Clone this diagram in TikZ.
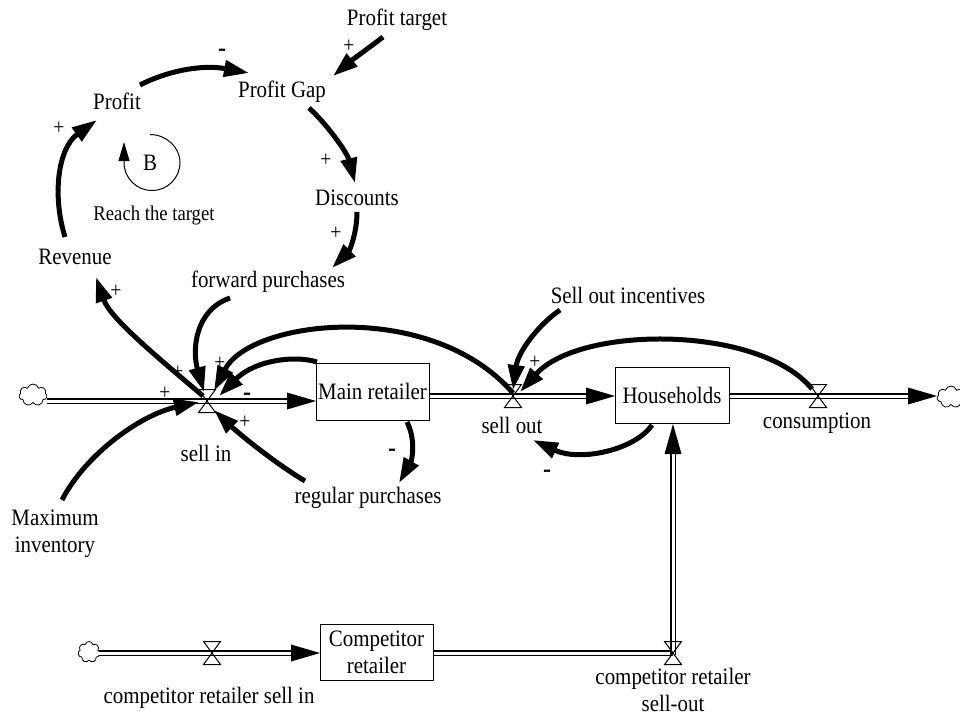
\documentclass[tikz,border=0pt]{standalone}
\usepackage{fontspec}
\setmainfont[FakeStretch=0.89]{Liberation Serif}
\newfontfamily\signfont[FakeBold=3]{Liberation Serif}
\usetikzlibrary{arrows.meta,shapes.symbols}
\begin{document}
\begin{tikzpicture}[x=1pt,y=-1pt,
  every node/.style={font=\fontsize{23.5}{27}\selectfont, inner sep=0pt},
  link/.style={line width=5pt, -{Triangle[length=25pt,width=16pt]}},
  pipe/.style={draw, line width=1.3pt, double=white, double distance=3pt},
  stock/.style={draw, line width=1pt, fill=white, inner sep=2pt, align=center},
  cloudy/.style={cloud, cloud puffs=7, cloud puff arc=150, cloud ignores aspect, draw, line width=0.8pt, inner sep=0pt},
  valve/.pic={\draw[line width=1pt] (-8.5,-11.5) -- (8.5,-11.5) -- (-8.5,11.5) -- (8.5,11.5) -- cycle;},
  headR/.pic={\fill (0,0) -- (-29,-8.5) -- (-29,8.5) -- cycle;},
  headU/.pic={\fill (0,0) -- (-8.5,30) -- (8.5,30) -- cycle;},
  sgn/.style={font=\fontsize{22}{24}\selectfont},
  nsgn/.style={font=\fontsize{22}{24}\signfont}
]
\useasboundingbox (0,0) rectangle (960,715);

% ---------- clouds ----------
\node[cloudy, minimum width=28pt, minimum height=22pt] (cloudL) at (33,395) {};
\node[cloudy, minimum width=28pt, minimum height=22pt] (cloudR) at (951,397) {};
\node[cloudy, minimum width=22pt, minimum height=21pt] (cloudC) at (89,652) {};

% ---------- pipe end points ----------
\coordinate (p1s) at (47,401);  \coordinate (p1e) at (316,401);
\coordinate (p2s) at (429,396); \coordinate (p2e) at (615,396);
\coordinate (p3s) at (729,396); \coordinate (p3e) at (937,396);
\coordinate (p4s) at (99,653);  \coordinate (p4e) at (320,653);
\coordinate (p5s) at (433,653); \coordinate (p5c) at (673,653);
\coordinate (p5v) at (673,655); \coordinate (p5e) at (673,424);

\draw[pipe, shorten >=28pt] (p1s) -- (p1e);
\draw[pipe, shorten >=28pt] (p2s) -- (p2e);
\draw[pipe, shorten >=28pt] (p3s) -- (p3e);
\draw[pipe, shorten >=28pt] (p4s) -- (p4e);
\draw[pipe] (p5s) -- (p5c);
\draw[pipe, shorten >=29pt] (p5v) -- (p5e);
\pic at (p1e) {headR};
\pic at (p2e) {headR};
\pic at (p3e) {headR};
\pic at (p4e) {headR};
\pic at (p5e) {headU};

% ---------- valves ----------
\coordinate (vSellIn) at (207,401);
\coordinate (vSellOut) at (513,396);
\coordinate (vCons) at (818,396);
\coordinate (vCSin) at (212,653);
\coordinate (vCSout) at (673,653);
\pic at (vSellIn) {valve};
\pic at (vSellOut) {valve};
\pic at (vCons) {valve};
\pic at (vCSin) {valve};
\pic at (vCSout) {valve};

% ---------- stocks ----------
\node[stock, minimum width=113pt, minimum height=57pt] (MR) at (372.5,391.5) {Main retailer};
\node[stock, minimum width=114pt, minimum height=56pt] (HH) at (672,395) {Households};
\node[stock, minimum width=113pt, minimum height=56pt] (CR) at (376.5,652) {Competitor\\retailer};

% ---------- link end points ----------
\coordinate (L1s) at (140,85);  \coordinate (L1e) at (249,73);
\coordinate (L2s) at (383,37);  \coordinate (L2e) at (333,76);
\coordinate (L3s) at (309,108); \coordinate (L3e) at (355,183);
\coordinate (L4s) at (357,212); \coordinate (L4e) at (332,268);
\coordinate (L5s) at (65,237);  \coordinate (L5e) at (97,120);
\coordinate (L6s) at (203,396); \coordinate (L6e) at (96,277);
\coordinate (L7s) at (230,298); \coordinate (L7e) at (204,392);
\coordinate (L8s) at (62,500);  \coordinate (L8e) at (199,402);
\coordinate (L9s) at (305,481); \coordinate (L9e) at (214,410);
\coordinate (L10s) at (407,422); \coordinate (L10e) at (399,483);
\coordinate (L11s) at (560,310); \coordinate (L11e) at (513,390);
\coordinate (L12s) at (812,389); \coordinate (L12e) at (520,392);
\coordinate (L13s) at (652,425); \coordinate (L13e) at (533,440);
\coordinate (L14s) at (513,393); \coordinate (L14e) at (214,391);
\coordinate (L15s) at (317,362); \coordinate (L15e) at (219,396);

% ---------- links ----------
\draw[link] (L1s) .. controls (165,72) and (200,64) .. (L1e);
\draw[link] (L2s) .. controls (370,47) and (352,60) .. (L2e);
\draw[link] (L3s) .. controls (325,122) and (347,152) .. (L3e);
\draw[link] (L4s) .. controls (357,232) and (350,250) .. (L4e);
\draw[link] (L5s) .. controls (52,195) and (58,148) .. (L5e);
\draw[link] (L6s) .. controls (155,355) and (110,318) .. (L6e);
\draw[link] (L7s) .. controls (195,310) and (192,350) .. (L7e);
\draw[link] (L8s) .. controls (85,455) and (140,415) .. (L8e);
\draw[link] (L9s) .. controls (270,460) and (235,430) .. (L9e);
\draw[link] (L10s) .. controls (416,440) and (412,460) .. (L10e);
\draw[link] (L11s) .. controls (538,325) and (518,352) .. (L11e);
\draw[link] (L12s) .. controls (760,325) and (580,325) .. (L12e);
\draw[link] (L13s) .. controls (635,450) and (580,462) .. (L13e);
\draw[link] (L14s) .. controls (430,298) and (250,320) .. (L14e);
\draw[link] (L15s) .. controls (295,355) and (255,360) .. (L15e);

% ---------- loop marker ----------
\coordinate (Bt) at (150,134.5);
\coordinate (Br) at (180,162.5);
\coordinate (Bb) at (152,190.5);
\coordinate (Bw) at (124,162.5);
\coordinate (Btip) at (124,142);
\draw[line width=1pt, -{Triangle[length=19pt,width=11pt]}]
  (Bt) .. controls (166,134.5) and (180,147) .. (Br)
       .. controls (180,178) and (167.5,190.5) .. (Bb)
       .. controls (136.5,190.5) and (124,178) .. (Bw) -- (Btip);
\node (Bl) at (150,163) {B};
\node[font=\fontsize{21}{23}\selectfont] (reach) at (154,215) {Reach the target};

% ---------- variable names ----------
\node (ptarget) at (397,20) {Profit target};
\node (pgap) at (282,92) {Profit Gap};
\node (profit) at (117,101) {Profit};
\node (disc) at (357,198) {Discounts};
\node (rev) at (75,257) {Revenue};
\node (fwd) at (268,282) {forward purchases};
\node (soi) at (628,295) {Sell out incentives};
\node (reg) at (368,498) {regular purchases};
\node[align=center] (maxinv) at (55,533.5) {Maximum\\inventory};
\node (sellin) at (206,453) {sell in};
\node (sellout) at (512,425) {sell out};
\node (cons) at (817,423) {consumption};
\node (csin) at (209,698) {competitor retailer sell in};
\node[align=center] (csout) at (673,689.5) {competitor retailer\\sell-out};

% ---------- polarities ----------
\node[nsgn] (s1) at (222,52) {-};
\node[sgn] (s2) at (349,46) {+};
\node[sgn] (s3) at (326,160) {+};
\node[sgn] (s4) at (336,233) {+};
\node[sgn] (s5) at (59,128) {+};
\node[sgn] (s6) at (116,291) {+};
\node[sgn] (s7) at (178,372) {+};
\node[sgn] (s8) at (220,363) {+};
\node[nsgn] (s9) at (247,396) {-};
\node[sgn] (s10) at (165,393) {+};
\node[sgn] (s11) at (245,422) {+};
\node[nsgn] (s12) at (392,452) {-};
\node[sgn] (s13) at (535,362) {+};
\node[nsgn] (s14) at (547,473) {-};
\end{tikzpicture}
\end{document}
